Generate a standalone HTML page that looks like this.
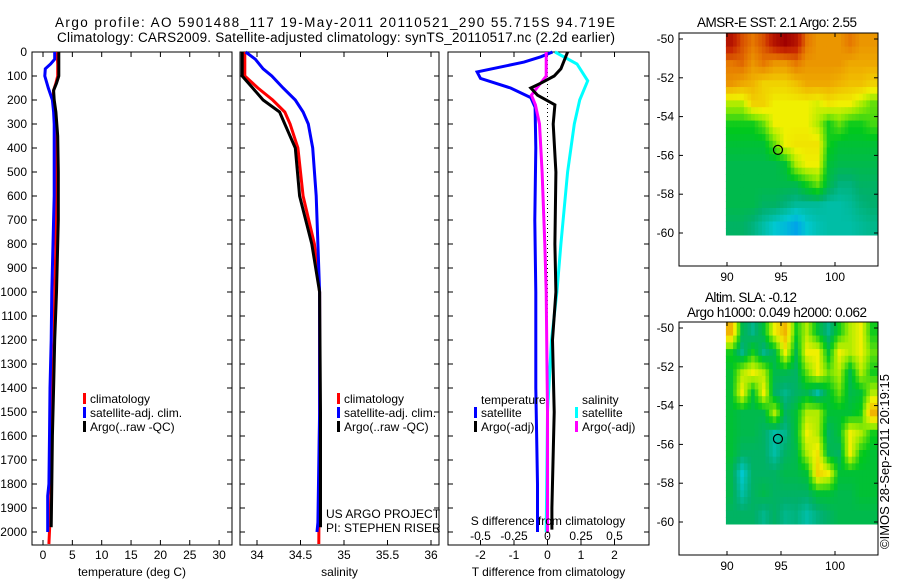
<!DOCTYPE html>
<html><head><meta charset="utf-8"><style>
html,body{margin:0;padding:0;background:#fff;}
svg{display:block;font-family:"Liberation Sans",Arial,sans-serif;}
text{font-size:12px;fill:#000;}
</style></head><body>
<svg id="fig" width="900" height="580" viewBox="0 0 900 580" xmlns="http://www.w3.org/2000/svg">
<text x="335" y="27" text-anchor="middle" style="font-size:13.5px" textLength="560" lengthAdjust="spacing">Argo profile: AO 5901488_117 19-May-2011 20110521_290 55.715S 94.719E</text>
<text x="336" y="42" text-anchor="middle" style="font-size:13.5px" textLength="558" lengthAdjust="spacing">Climatology: CARS2009. Satellite-adjusted climatology: synTS_20110517.nc (2.2d earlier)</text>
</svg>
<script>
// ---------- data ----------
const depthTicks=[0,100,200,300,400,500,600,700,800,900,1000,1100,1200,1300,1400,1500,1600,1700,1800,1900,2000];
const tempTicks=[0,5,10,15,20,25,30];
const salTicks=[34,34.5,35,35.5,36];
const tdiffTicks=[-2,-1,0,1,2];
const sdiffTicks=[-0.5,-0.25,0,0.25,0.5];
const sdiffLabels=["-0.5","-0.25","0","0.25","0.5"];
const tempClimDepth=[0,50,100,130,160,200,250,300,400,600,800,1000,1200,1400,1600,1800,1950,2050];
const tempClim=[2.4,2.5,2.5,2.2,1.8,1.7,1.9,2.0,2.1,2.2,2.2,2.0,1.9,1.6,1.5,1.4,1.2,1.0];
const tempSatDepth=[0,30,50,70,100,150,200,250,300,400,600,800,1000,1200,1400,1600,1800,1850,2000];
const tempSat=[2.0,2.0,1.3,0.4,0.3,0.9,1.6,1.8,1.9,1.9,1.9,1.7,1.5,1.4,1.2,1.1,1.0,0.8,0.8];
const tempArgoDepth=[0,100,130,160,200,250,350,500,700,1000,1200,1400,1600,1800,1980];
const tempArgo=[2.7,2.7,2.3,1.8,1.9,2.2,2.5,2.6,2.6,2.3,2.0,1.8,1.6,1.5,1.4];
const salClimDepth=[0,100,150,200,250,300,400,600,800,1000,1500,2050];
const salClim=[33.86,33.86,34.01,34.18,34.32,34.38,34.47,34.53,34.66,34.72,34.72,34.71];
const salSatDepth=[0,30,70,100,150,200,250,300,400,600,800,1000,1500,1960,2000];
const salSat=[33.87,33.98,34.07,34.17,34.30,34.44,34.53,34.59,34.64,34.68,34.70,34.72,34.72,34.70,34.69];
const salArgoDepth=[0,100,150,200,250,300,400,600,800,1000,1500,1980];
const salArgo=[33.83,33.83,33.95,34.07,34.26,34.32,34.44,34.49,34.63,34.72,34.73,34.73];
const tdSatDepth=[0,20,42,83,110,150,190,230,400,700,1000,1400,1800,2000];
const tdSat=[0.15,-0.2,-0.7,-2.1,-2.0,-1.1,-0.5,-0.37,-0.35,-0.38,-0.35,-0.35,-0.3,-0.3];
const tdArgoDepth=[0,70,100,130,150,180,220,300,500,800,1000,1200,1500,1900,1990];
const tdArgo=[0.6,0.4,0.2,-0.2,-0.5,-0.3,0.22,0.17,0.25,0.22,0.25,0.15,0.2,0.13,0.13];
const sdSatDepth=[0,50,120,200,300,500,800,1000,1200,1500,2000];
const sdSat=[0.056,0.22,0.30,0.24,0.20,0.15,0.10,0.07,0.03,0.0,-0.01];
const sdArgoDepth=[0,100,150,180,220,300,500,800,1000,1500,2000];
const sdArgo=[-0.01,-0.01,-0.08,-0.12,-0.09,-0.06,-0.04,-0.02,-0.01,0.0,0.0];
const mapLatTicks=[-50,-52,-54,-56,-58,-60];
const mapLonTicks=[90,95,100];
const argoLon=94.719, argoLat=-55.715;
const sstGrid=[
[0.95,0.85,0.8,0.85,0.95,1.0,0.95,0.8,0.75,0.75,0.75,0.8,0.75,0.75],
[0.8,0.82,0.75,0.8,0.75,0.75,0.8,0.75,0.75,0.75,0.75,0.72,0.72,0.72],
[0.75,0.72,0.7,0.65,0.65,0.65,0.68,0.72,0.72,0.72,0.7,0.68,0.68,0.65],
[0.55,0.55,0.65,0.65,0.6,0.6,0.6,0.6,0.58,0.62,0.6,0.6,0.55,0.5],
[0.45,0.45,0.45,0.5,0.6,0.6,0.6,0.6,0.55,0.45,0.5,0.45,0.45,0.48],
[0.42,0.42,0.42,0.42,0.5,0.6,0.62,0.62,0.62,0.45,0.42,0.42,0.42,0.42],
[0.4,0.4,0.4,0.4,0.4,0.42,0.55,0.6,0.6,0.42,0.4,0.4,0.4,0.4],
[0.4,0.4,0.4,0.4,0.4,0.4,0.4,0.45,0.5,0.4,0.36,0.36,0.38,0.38],
[0.4,0.4,0.4,0.38,0.38,0.36,0.34,0.34,0.34,0.33,0.33,0.34,0.36,0.37],
[0.38,0.38,0.36,0.33,0.3,0.28,0.25,0.3,0.32,0.33,0.33,0.33,0.34,0.35]];
const slaGrid=[
[0.7,0.4,0.35,0.42,0.6,0.7,0.45,0.55,0.42,0.35,0.45,0.55,0.6,0.45],
[0.45,0.35,0.45,0.35,0.4,0.6,0.4,0.6,0.6,0.42,0.6,0.55,0.6,0.5],
[0.42,0.55,0.6,0.55,0.4,0.4,0.38,0.5,0.6,0.5,0.55,0.4,0.55,0.45],
[0.42,0.6,0.42,0.6,0.38,0.35,0.38,0.4,0.33,0.42,0.5,0.4,0.42,0.55],
[0.42,0.4,0.4,0.4,0.55,0.38,0.42,0.55,0.55,0.42,0.42,0.42,0.45,0.7],
[0.42,0.4,0.4,0.38,0.33,0.35,0.42,0.6,0.55,0.38,0.42,0.6,0.55,0.45],
[0.42,0.38,0.38,0.38,0.33,0.38,0.4,0.55,0.62,0.4,0.38,0.6,0.45,0.42],
[0.4,0.3,0.38,0.38,0.38,0.4,0.4,0.42,0.65,0.6,0.42,0.42,0.42,0.42],
[0.4,0.33,0.38,0.4,0.38,0.38,0.38,0.38,0.42,0.42,0.4,0.4,0.42,0.42],
[0.38,0.38,0.38,0.35,0.38,0.35,0.36,0.33,0.36,0.38,0.4,0.4,0.4,0.4]];

// ---------- helpers ----------
const NS="http://www.w3.org/2000/svg";
const svg=document.getElementById('fig');
function mk(tag,attrs,parent){const e=document.createElementNS(NS,tag);for(const k in attrs)e.setAttribute(k,attrs[k]);(parent||svg).appendChild(e);return e;}
function txt(x,y,s,anchor,parent){const e=mk('text',{x:x,y:y,'text-anchor':anchor||'start'},parent);e.textContent=s;return e;}
const TOP=52,BOT=545;
const yD=d=>TOP+d*0.24;

function panel(name,x0,x1,xs,xticks,xlabels,xtitle,showDepth){
  const g=mk('g',{});
  
  
  const r=mk('rect',{x:x0,y:TOP,width:x1-x0,height:BOT-TOP,fill:'none',stroke:'#000','stroke-width':1},g);
  
  
  depthTicks.forEach(d=>{
    mk('line',{x1:x0,x2:x0+5,y1:yD(d),y2:yD(d),stroke:'#000'},g);
    mk('line',{x1:x1,x2:x1-5,y1:yD(d),y2:yD(d),stroke:'#000'},g);
    if(showDepth){const t=txt(27,yD(d)+4,String(d),'end',g);
      
      }
  });
  xticks.forEach((v,i)=>{
    const x=xs(v);
    mk('line',{x1:x,x2:x,y1:TOP,y2:TOP+5,stroke:'#000'},g);
    mk('line',{x1:x,x2:x,y1:BOT,y2:BOT-5,stroke:'#000'},g);
    const t=txt(x,BOT+14,xlabels[i],'middle',g);
    
    
  });
  const xt=txt((x0+x1)/2,BOT+31,xtitle,'middle',g);
  
  
  return g;
}
function line(g,name,depths,vals,xs,color){
  const pts=depths.map((d,i)=>xs(vals[i]).toFixed(1)+','+yD(d).toFixed(1)).join(' ');
  const p=mk('polyline',{points:pts,fill:'none',stroke:color,'stroke-width':3},g);
  
  
}
function legendEntry(g,x,y,color,label){
  const grp=mk('g',{},g);
  
  
  mk('rect',{x:x,y:y-10,width:3,height:11,fill:color},grp);
  txt(x+7,y,label,'start',grp);
}

// ---------- temperature panel ----------
const xT=v=>43+v*5.87;
const g1=panel('temperature-panel',32,232,xT,tempTicks,tempTicks.map(String),'temperature (deg C)',true);
line(g1,'temp-climatology-line',tempClimDepth,tempClim,xT,'#f00');
line(g1,'temp-satellite-line',tempSatDepth,tempSat,xT,'#00f');
line(g1,'temp-argo-line',tempArgoDepth,tempArgo,xT,'#000');
legendEntry(g1,83,403,'#f00','climatology');
legendEntry(g1,83,417,'#00f','satellite-adj. clim.');
legendEntry(g1,83,431,'#000','Argo(..raw -QC)');

// ---------- salinity panel ----------
const xS=v=>257+(v-34)*87;
const g2=panel('salinity-panel',240,439,xS,salTicks,["34","34.5","35","35.5","36"],'salinity',false);
line(g2,'sal-climatology-line',salClimDepth,salClim,xS,'#f00');
line(g2,'sal-satellite-line',salSatDepth,salSat,xS,'#00f');
line(g2,'sal-argo-line',salArgoDepth,salArgo,xS,'#000');
legendEntry(g2,337,403,'#f00','climatology');
legendEntry(g2,337,417,'#00f','satellite-adj. clim.');
legendEntry(g2,337,431,'#000','Argo(..raw -QC)');
const c1=txt(326,518,'US ARGO PROJECT','start',g2);


const c2=txt(326,532,'PI: STEPHEN RISER','start',g2);



// ---------- difference panel ----------
const xTd=v=>547.5+v*33.5;
const xSd=v=>547.5+v*134;
const g3=panel('difference-panel',448,649,xTd,tdiffTicks,tdiffTicks.map(String),'T difference from climatology',false);
const zl=mk('line',{x1:xTd(0),x2:xTd(0),y1:TOP,y2:BOT,stroke:'#000','stroke-dasharray':'1,3'},g3);


line(g3,'tdiff-satellite-line',tdSatDepth,tdSat,xTd,'#00f');
line(g3,'sdiff-satellite-line',sdSatDepth,sdSat,xSd,'#0ff');
line(g3,'sdiff-argo-line',sdArgoDepth,sdArgo,xSd,'#f0f');
line(g3,'tdiff-argo-line',tdArgoDepth,tdArgo,xTd,'#000');
const lt=txt(481,404,'temperature','start',g3);


const ls=txt(582,404,'salinity','start',g3);


legendEntry(g3,474,417,'#00f','satellite');
legendEntry(g3,474,431,'#000','Argo(-adj)');
legendEntry(g3,575,417,'#0ff','satellite');
legendEntry(g3,575,431,'#f0f','Argo(-adj)');
const st=txt(548,525,'S difference from climatology','middle',g3);


sdiffTicks.forEach((v,i)=>{
  const t=txt(xSd(v),540,sdiffLabels[i],'middle',g3);
  
  
});

// ---------- maps ----------
const stops=[[0.2,[0,128,255]],[0.3,[0,200,208]],[0.37,[0,176,110]],[0.44,[0,200,30]],[0.53,[150,235,0]],[0.6,[240,240,0]],[0.7,[240,180,0]],[0.8,[230,120,0]],[0.9,[200,40,0]],[1.0,[160,0,0]]];
function cmap(v){
  if(v<=stops[0][0])return 'rgb('+stops[0][1]+')';
  for(let i=1;i<stops.length;i++){if(v<=stops[i][0]){const a=stops[i-1],b=stops[i],t=(v-a[0])/(b[0]-a[0]);
    return 'rgb('+a[1].map((c,k)=>Math.round(c+(b[1][k]-c)*t)).join(',')+')';}}
  return 'rgb('+stops[stops.length-1][1]+')';
}
function sampleGrid(grid,fr,fc){
  const nr=grid.length,nc=grid[0].length;
  let r=Math.min(Math.max(fr-0.5,0),nr-1),c=Math.min(Math.max(fc-0.5,0),nc-1);
  const r0=Math.floor(r),c0=Math.floor(c),r1=Math.min(r0+1,nr-1),c1=Math.min(c0+1,nc-1);
  const tr=r-r0,tc=c-c0;
  const a=grid[r0][c0]*(1-tc)+grid[r0][c1]*tc, b=grid[r1][c0]*(1-tc)+grid[r1][c1]*tc;
  return a*(1-tr)+b*tr;
}
function mapPanel(name,top,grid,titles,titleYs,titleXs,titleLens){
  const x0=679,x1=878,y1=top+233;
  const lonX=l=>727+(l-90)*10.8;
  const latY=l=>top+6+(-50-l)*19.4;
  const g=mk('g',{});
  
  
  const nr=grid.length,nc=grid[0].length,SUB=3;
  const lon0=89.9,lon1=103.9,lat0=-49.7,lat1=-60.1;
  for(let r=0;r<nr*SUB;r++)for(let c=0;c<nc*SUB;c++){
    const xa=lonX(lon0+(lon1-lon0)*c/(nc*SUB)),xb=lonX(lon0+(lon1-lon0)*(c+1)/(nc*SUB));
    const ya=latY(lat0+(lat1-lat0)*r/(nr*SUB)),yb=latY(lat0+(lat1-lat0)*(r+1)/(nr*SUB));
    const v=sampleGrid(grid,(r+0.5)/SUB,(c+0.5)/SUB);
    const cell=mk('rect',{x:xa.toFixed(1),y:ya.toFixed(1),width:(xb-xa+0.6).toFixed(1),height:(yb-ya+0.6).toFixed(1),fill:cmap(v)},g);
    
    
  }
  const f=mk('rect',{x:x0,y:top,width:x1-x0,height:y1-top,fill:'none',stroke:'#000'},g);
  
  
  mapLatTicks.forEach(l=>{
    const y=latY(l);
    mk('line',{x1:x0,x2:x0+4,y1:y,y2:y,stroke:'#000'},g);
    mk('line',{x1:x1,x2:x1-4,y1:y,y2:y,stroke:'#000'},g);
    const t=txt(674,y+4,String(l),'end',g);
    
    
  });
  mapLonTicks.forEach(l=>{
    const x=lonX(l);
    mk('line',{x1:x,x2:x,y1:top,y2:top+4,stroke:'#000'},g);
    mk('line',{x1:x,x2:x,y1:y1,y2:y1-4,stroke:'#000'},g);
    const t=txt(x,y1+15,String(l),'middle',g);
    
    
  });
  const pt=mk('circle',{cx:lonX(argoLon),cy:latY(argoLat),r:4.5,fill:'none',stroke:'#000','stroke-width':1.2},g);
  
  
  titles.forEach((s,i)=>{
    const t=txt(titleXs[i],titleYs[i],s,'middle',g);
    t.setAttribute('textLength',titleLens[i]);
    t.setAttribute('lengthAdjust','spacing');
    t.setAttribute('style','font-size:13.5px');
    
    
  });
}
mapPanel('sst-map',33,sstGrid,['AMSR-E SST: 2.1 Argo: 2.55'],[27],[777],[160]);
mapPanel('sla-map',322,slaGrid,['Altim. SLA: -0.12','Argo h1000: 0.049 h2000: 0.062'],[302,317],[751,777],[92,180]);
const stamp=txt(0,0,'\u00A9IMOS 28-Sep-2011 20:19:15','start');
stamp.setAttribute('transform','translate(889,549) rotate(-90)');
stamp.setAttribute('style','font-size:13px');
stamp.setAttribute('textLength','175');


</script>
</body></html>
